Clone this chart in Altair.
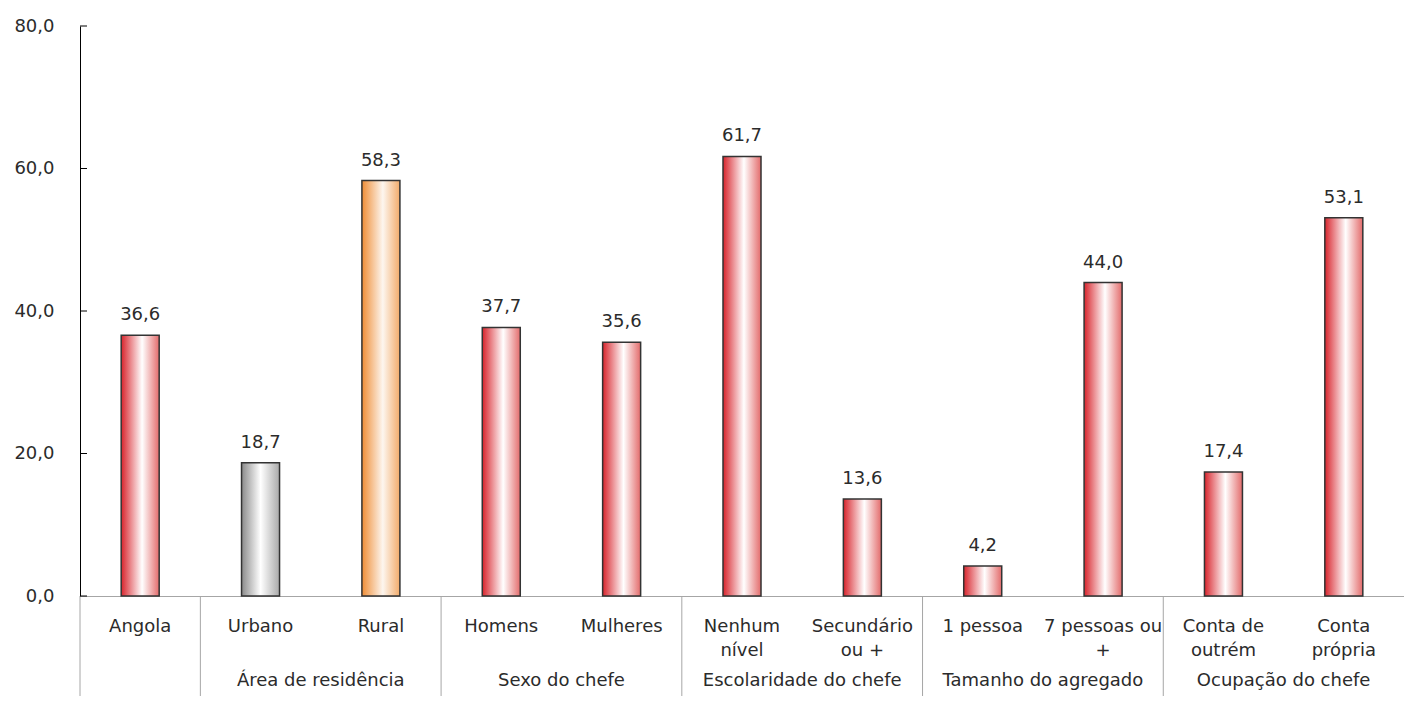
import altair as alt
import pandas as pd

categories = ["Angola", "Urbano", "Rural", "Homens", "Mulheres", "Nenhum nível",
              "Secundário ou +", "1 pessoa", "7 pessoas ou +", "Conta de outrém", "Conta própria"]
cat_labels = ["Angola", "Urbano", "Rural", "Homens", "Mulheres", "Nenhum\nnível",
              "Secundário\nou +", "1 pessoa", "7 pessoas ou\n+", "Conta de\noutrém", "Conta\nprópria"]
values = [36.6, 18.7, 58.3, 37.7, 35.6, 61.7, 13.6, 4.2, 44.0, 17.4, 53.1]
tones = ["red", "grey", "orange", "red", "red", "red", "red", "red", "red", "red", "red"]

group_first = ["Urbano", "Homens", "Nenhum nível", "1 pessoa", "Conta de outrém"]
group_names = ["Área de residência", "Sexo do chefe", "Escolaridade do chefe",
               "Tamanho do agregado", "Ocupação do chefe"]

y_ticks = [0, 20, 40, 60, 80]

FONT = "DejaVu Sans"
FS = 18
TXT = "#2b2b2b"
W, H = 1324, 570

df = pd.DataFrame({"cat": categories, "lab": cat_labels, "v": values, "tone": tones})
gdf = pd.DataFrame({"cat": group_first, "g": group_names})
tdf = pd.DataFrame({"t": y_ticks})

xenc = alt.X("cat:N", sort=categories,
             scale=alt.Scale(domain=categories, paddingInner=0, paddingOuter=0),
             axis=alt.Axis(title=None, labels=False, ticks=False, domainColor="#a6a6a6",
                           domainWidth=1))
yscale = alt.Scale(domain=[0, 80], nice=False)
yenc = alt.Y("v:Q", scale=yscale,
             axis=alt.Axis(title=None, values=y_ticks, ticks=False, grid=False,
                           labelExpr="replace(format(datum.value, '.1f'), '.', ',')",
                           labelFont=FONT, labelFontSize=FS, labelColor=TXT,
                           labelPadding=26, domainColor="#000000", domainWidth=1))


def grad(c0, cm, c1, mid):
    return alt.Gradient(gradient="linear", x1=0, x2=1, y1=0, y2=0,
                        stops=[alt.GradientStop(color=c0, offset=0),
                               alt.GradientStop(color=cm, offset=mid),
                               alt.GradientStop(color=c1, offset=1)])


grads = {
    "red": grad("#d8242c", "#ffffff", "#e36b6b", 0.55),
    "grey": grad("#8a8a8a", "#ffffff", "#a9a9a9", 0.5),
    "orange": grad("#ef8d35", "#fdf6ef", "#f2ab6a", 0.55),
}

base = alt.Chart(df)
bars = [
    base.transform_filter(alt.datum.tone == t).mark_bar(
        size=38, color=grads[t], stroke="#333333", strokeWidth=1.5
    ).encode(x=xenc, y=yenc)
    for t in ["red", "grey", "orange"]
]

vlabels = base.transform_calculate(
    lbl="replace(format(datum.v, '.1f'), '.', ',')"
).mark_text(font=FONT, fontSize=FS, color=TXT, baseline="bottom", dy=-11).encode(
    x=alt.X("cat:N", sort=categories), y=alt.Y("v:Q", scale=yscale), text="lbl:N")

clabels = base.mark_text(font=FONT, fontSize=FS, color=TXT, baseline="middle",
                         lineBreak="\n", lineHeight=24).encode(
    x=alt.X("cat:N", sort=categories), y=alt.value(H + 31), text="lab:N")

seps = alt.Chart(gdf).mark_rule(color="#a6a6a6", strokeWidth=1).encode(
    x=alt.X("cat:N", sort=categories, bandPosition=0), y=alt.value(H), y2=alt.value(H + 125))

axis_ext = alt.Chart(gdf).transform_filter(alt.datum.cat == "Urbano").mark_rule(
    color="#a6a6a6", strokeWidth=1).encode(x=alt.value(0), y=alt.value(H), y2=alt.value(H + 125))

glabels = alt.Chart(gdf).mark_text(font=FONT, fontSize=FS, color=TXT, baseline="middle").encode(
    x=alt.X("cat:N", sort=categories, bandPosition=1), y=alt.value(H + 85), text="g:N")

yticks = alt.Chart(tdf).mark_rule(color="#000000", strokeWidth=1).encode(
    x=alt.value(0), x2=alt.value(7), y=alt.Y("t:Q", scale=yscale))

chart = alt.layer(*bars, vlabels, clabels, seps, axis_ext, glabels, yticks).properties(
    width=W, height=H,
    autosize=alt.AutoSizeParams(type="none"),
    padding={"left": 72, "top": 18, "right": 0, "bottom": 100},
    background="white",
).configure_view(stroke=None)

chart.save("out.html", embed_options={"renderer": "svg", "actions": False})
